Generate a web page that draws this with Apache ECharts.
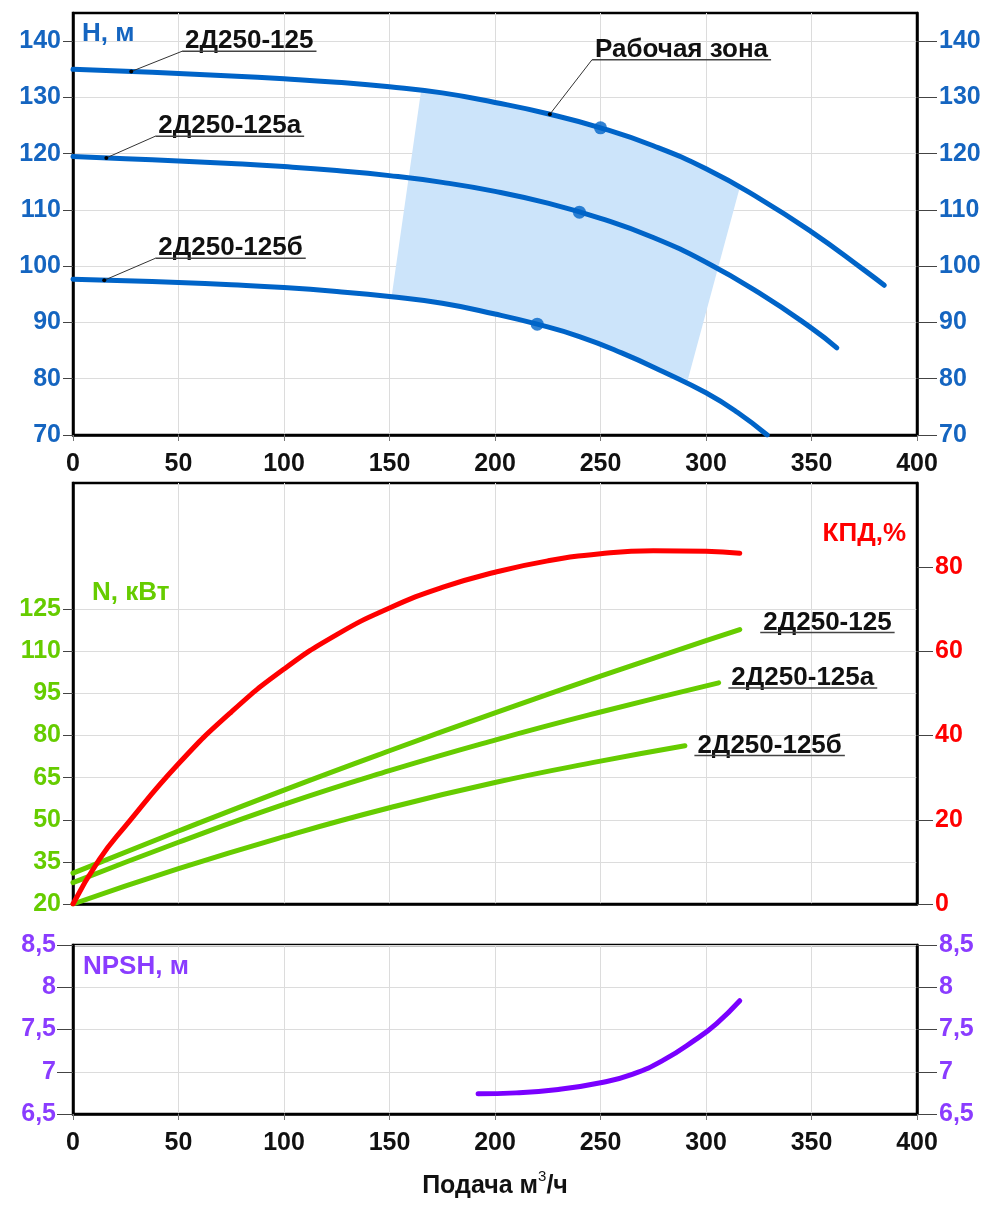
<!DOCTYPE html>
<html>
<head>
<meta charset="utf-8">
<title>2Д250-125</title>
<script src="https://cdn.jsdelivr.net/npm/echarts@6/dist/echarts.min.js"></script>
<style>
  html, body { margin: 0; padding: 0; background: #fff; }
  #chart { width: 1000px; height: 1214px; }
</style>
</head>
<body>
<div id="chart"></div>
<script>
// tick labels
const xTicks = [0, 50, 100, 150, 200, 250, 300, 350, 400];
const hTicks = [70, 80, 90, 100, 110, 120, 130, 140];
const nTicks = [20, 35, 50, 65, 80, 95, 110, 125];
const effTicks = [0, 20, 40, 60, 80];
const npshTicks = [6.5, 7, 7.5, 8, 8.5];

const pumpNames = ['2Д250-125', '2Д250-125а', '2Д250-125б'];

// H-Q, m
const headQ1 = [0, 25, 50, 75, 100, 125, 150, 175, 200, 225, 250, 275, 300, 325, 350, 375, 384.5];
const headH1 = [135.0, 134.65, 134.25, 133.8, 133.3, 132.7, 131.9, 130.8, 129.1, 127.1, 124.6, 121.4, 117.3, 112.1, 106.1, 99.3, 96.6];
const headQ2 = [0, 25, 50, 75, 100, 125, 150, 175, 200, 225, 250, 275, 300, 325, 350, 362];
const headH2 = [119.5, 119.1, 118.7, 118.25, 117.7, 117.0, 116.1, 114.9, 113.3, 111.2, 108.5, 105.1, 100.7, 95.3, 89.0, 85.5];
const headQ3 = [0, 25, 50, 75, 100, 125, 150, 175, 200, 220, 240, 260, 280, 300, 315, 329];
const headH3 = [97.7, 97.4, 97.1, 96.7, 96.2, 95.5, 94.6, 93.4, 91.5, 89.7, 87.5, 84.6, 81.2, 77.5, 74.0, 70.0];

// duty points
const dutyQ = [250, 240, 220];
const dutyH = [124.6, 109.6, 89.7];

// working zone outline (top along curve 1, back along curve 3)
const zoneQ = [165, 175, 200, 225, 250, 275, 300, 316, 291, 280, 260, 240, 220, 200, 175, 151];
const zoneH = [131.25, 130.8, 129.1, 127.1, 124.6, 121.4, 117.3, 114.0, 79.3, 81.2, 84.6, 87.5, 89.7, 91.5, 93.4, 94.55];

// efficiency, %
const effQ = [0, 12.5, 25, 50, 75, 100, 125, 150, 175, 200, 225, 250, 275, 300, 316];
const effV = [0, 10.6, 18.6, 33.3, 45.6, 55.8, 64.0, 70.3, 75.2, 78.8, 81.5, 83.2, 83.9, 83.8, 83.3];

// power, kW
const powerQ1 = [0, 50, 100, 150, 200, 250, 300, 316];
const powerN1 = [31.0, 46.0, 60.6, 74.6, 88.1, 101.2, 113.8, 117.8];
const powerQ2 = [0, 50, 100, 150, 200, 250, 306];
const powerN2 = [27.6, 42.0, 55.5, 67.5, 78.4, 88.4, 98.8];
const powerQ3 = [0, 50, 100, 150, 200, 250, 290];
const powerN3 = [20.0, 32.6, 44.0, 54.3, 63.3, 70.9, 76.4];

// NPSH, m
const npshQ = [192, 210, 230, 250, 265, 280, 295, 305, 316];
const npshV = [6.74, 6.75, 6.79, 6.87, 6.97, 7.14, 7.38, 7.57, 7.84];

const BLUE = '#1565c0';
const CURVE_BLUE = '#0064c8';
const GREEN = '#66cc00';
const RED = '#ff0000';
const PURPLE = '#8a3cff';
const FONT = '"Liberation Sans", Arial, sans-serif';

const zip = (a, b) => a.map((v, i) => [v, b[i]]);

const chart = echarts.init(document.getElementById('chart'));

function xAxisFor(gridIndex, withLabels) {
    return {
        type: 'value', gridIndex, min: 0, max: 400, interval: 10,
        axisLine: { show: true, lineStyle: { color: '#000', width: 2.5 } },
        axisTick: { show: withLabels, customValues: xTicks, length: 6, lineStyle: { color: '#777' } },
        axisLabel: {
            show: withLabels, customValues: xTicks, margin: 17,
            color: '#111', fontSize: 25, fontWeight: 'bold', fontFamily: FONT
        },
        splitLine: { show: true, lineStyle: { color: '#dcdcdc', width: 1 } }
    };
}

function yAxisFor(gridIndex, opts) {
    return {
        type: 'value', gridIndex, position: opts.position,
        min: opts.min, max: opts.max, interval: opts.interval,
        axisLine: { show: true, lineStyle: { color: '#000', width: 2.5 } },
        axisTick: { show: true, customValues: opts.ticks, length: opts.tick, lineStyle: { color: '#444' } },
        axisLabel: {
            customValues: opts.ticks, margin: opts.margin,
            color: opts.color, fontSize: 25, fontWeight: 'bold', fontFamily: FONT,
            formatter: v => String(v).replace('.', ',')
        },
        splitLine: { show: !!opts.split, lineStyle: { color: '#dcdcdc', width: 1 } }
    };
}

const lineStyle = (color) => ({ color, width: 5, cap: 'round', join: 'round' });
const curve = (name, xi, yi, q, v, color, z) => ({
    type: 'line', name, xAxisIndex: xi, yAxisIndex: yi, data: zip(q, v),
    smooth: 0.5, showSymbol: false, lineStyle: lineStyle(color), z
});

const option = {
    backgroundColor: '#fff',
    animation: false,
    grid: [
        { left: 73, top: 13, width: 844, height: 422, show: true, borderColor: '#000', borderWidth: 2.5 },
        { left: 73, top: 483, width: 844, height: 421, show: true, borderColor: '#000', borderWidth: 2.5 },
        { left: 73, top: 945, width: 844, height: 169, show: true, borderColor: '#000', borderWidth: 2.5 }
    ],
    xAxis: [
        xAxisFor(0, true),
        xAxisFor(1, false),
        Object.assign(xAxisFor(2, true), {
            name: '{t|Подача м}{s|3}{t|/ч}',
            nameLocation: 'middle',
            nameGap: 55,
            nameTextStyle: {
                rich: {
                    t: { fontSize: 25, fontWeight: 'bold', fontFamily: FONT, color: '#111', lineHeight: 34 },
                    s: { fontSize: 15, fontFamily: FONT, color: '#111', verticalAlign: 'top', lineHeight: 16 }
                }
            }
        })
    ],
    yAxis: [
        yAxisFor(0, { position: 'left', min: 70, max: 145, interval: 5, ticks: hTicks, tick: 10, margin: 12, color: BLUE, split: true }),
        yAxisFor(0, { position: 'right', min: 70, max: 145, interval: 5, ticks: hTicks, tick: 20, margin: 22, color: BLUE }),
        yAxisFor(1, { position: 'left', min: 20, max: 170, interval: 15, ticks: nTicks, tick: 10, margin: 12, color: GREEN, split: true }),
        yAxisFor(1, { position: 'right', min: 0, max: 100, interval: 20, ticks: effTicks, tick: 16, margin: 18, color: RED }),
        yAxisFor(2, { position: 'left', min: 6.5, max: 8.5, interval: 0.5, ticks: npshTicks, tick: 16, margin: 17, color: PURPLE, split: true }),
        yAxisFor(2, { position: 'right', min: 6.5, max: 8.5, interval: 0.5, ticks: npshTicks, tick: 20, margin: 22, color: PURPLE })
    ],
    series: [
        {
            // working zone
            type: 'custom', xAxisIndex: 0, yAxisIndex: 0, z: 1, silent: true,
            data: zip(zoneQ, zoneH),
            renderItem: (params, api) => {
                if (params.dataIndex !== 0) return;
                const pts = zoneQ.map((q, i) => api.coord([q, zoneH[i]]));
                return { type: 'polygon', shape: { points: pts }, style: { fill: '#cce4fa' } };
            }
        },
        curve(pumpNames[0], 0, 0, headQ1, headH1, CURVE_BLUE, 3),
        curve(pumpNames[1], 0, 0, headQ2, headH2, CURVE_BLUE, 3),
        curve(pumpNames[2], 0, 0, headQ3, headH3, CURVE_BLUE, 3),
        { type: 'scatter', xAxisIndex: 0, yAxisIndex: 0, data: zip(dutyQ, dutyH), symbolSize: 13, itemStyle: { color: CURVE_BLUE }, z: 4 },
        curve('КПД', 1, 3, effQ, effV, RED, 3),
        curve(pumpNames[0], 1, 2, powerQ1, powerN1, GREEN, 2),
        curve(pumpNames[1], 1, 2, powerQ2, powerN2, GREEN, 2),
        curve(pumpNames[2], 1, 2, powerQ3, powerN3, GREEN, 2),
        curve('NPSH', 2, 4, npshQ, npshV, '#7a00ff', 3)
    ]
};

chart.setOption(option);

// ---- annotations (placed from data coordinates) ----
const LABEL_FONT = 'bold 26px ' + FONT;
const ctx = document.createElement('canvas').getContext('2d');
ctx.font = LABEL_FONT;

function underlined(text, x, y) {
    const w = ctx.measureText(text).width;
    return [
        { type: 'text', x: x + 3, y: y - 10, z: 100,
          style: { text, fill: '#111', font: LABEL_FONT, textAlign: 'left', textVerticalAlign: 'middle', align: 'left', verticalAlign: 'middle' } },
        { type: 'line', z: 100, shape: { x1: x, y1: y, x2: x + w + 6, y2: y },
          style: { stroke: '#444', lineWidth: 1.5 } }
    ];
}

function leader(from, to) {
    return [
        { type: 'line', z: 100, shape: { x1: from[0], y1: from[1], x2: to[0], y2: to[1] }, style: { stroke: '#333', lineWidth: 1 } },
        { type: 'circle', z: 101, shape: { cx: from[0], cy: from[1], r: 2 }, style: { fill: '#000' } }
    ];
}

const headNoteFrom = [[27.6, 134.6], [15.8, 119.25], [14.8, 97.5]];
const headNoteAt = [[51.7, 138.2], [39, 123.1], [39, 101.4]];
const powerNoteAt = [[325.7, 116.7], [310.6, 97.0], [294.5, 72.9]];

const toTop = p => chart.convertToPixel({ seriesIndex: 1 }, p);
const toMid = p => chart.convertToPixel({ seriesIndex: 6 }, p);

let graphics = [];
pumpNames.forEach((name, i) => {
    const a = toTop(headNoteFrom[i]);
    const b = toTop(headNoteAt[i]);
    graphics = graphics.concat(leader(a, b), underlined(name, b[0], b[1]));
    const c = toMid(powerNoteAt[i]);
    graphics = graphics.concat(underlined(name, c[0], c[1]));
});
const zA = toTop([226, 127.0]);
const zB = toTop([246, 136.7]);
graphics = graphics.concat(leader(zA, zB), underlined('Рабочая зона', zB[0], zB[1]));

const title = (text, x, y, color, align) => ({
    type: 'text', x, y, z: 100,
    style: { text, fill: color, font: LABEL_FONT, textAlign: align, align, textVerticalAlign: 'middle', verticalAlign: 'middle' }
});
graphics.push(
    title('H, м', 82, 34, BLUE, 'left'),
    title('N, кВт', 92, 593, GREEN, 'left'),
    title('КПД,%', 906, 534, RED, 'right'),
    title('NPSH, м', 83, 967, PURPLE, 'left')
);

chart.setOption({ graphic: graphics });
</script>
</body>
</html>
